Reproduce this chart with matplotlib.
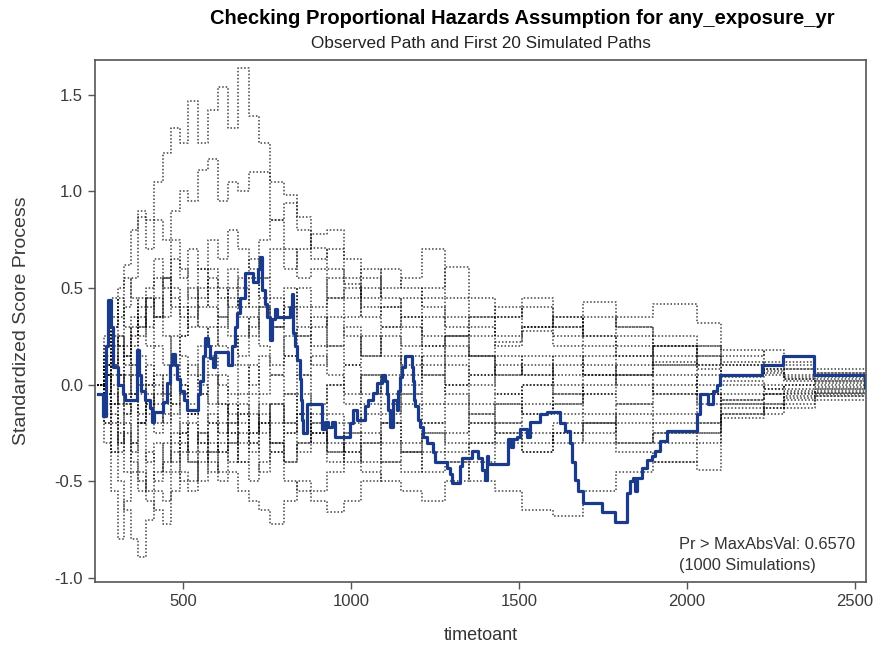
import matplotlib
matplotlib.use("Agg")
import matplotlib.pyplot as plt

plt.rcParams['font.family'] = ['Liberation Sans', 'DejaVu Sans']

# observed path: step times and values
obs_t = [247, 262, 271, 277, 286, 292, 307, 321, 327, 363, 369, 375, 387, 402, 408, 414,
         440, 452, 461, 467, 476, 482, 491, 503, 512, 545, 551, 560, 565, 574, 580, 589,
         595, 634, 646, 655, 661, 670, 685, 708, 723, 729, 735, 744, 750, 759, 765, 774,
         780, 818, 824, 827, 833, 839, 848, 851, 854, 857, 869, 914, 923, 932, 943, 952,
         997, 1006, 1018, 1042, 1051, 1065, 1077, 1092, 1101, 1107, 1110, 1116, 1125, 1137,
         1140, 1146, 1152, 1161, 1182, 1185, 1188, 1190, 1199, 1205, 1214, 1226, 1244, 1250,
         1286, 1295, 1301, 1324, 1330, 1360, 1378, 1390, 1399, 1405, 1408, 1467, 1476, 1482,
         1494, 1503, 1524, 1533, 1562, 1583, 1622, 1637, 1652, 1658, 1667, 1676, 1690, 1747,
         1786, 1821, 1830, 1839, 1845, 1851, 1866, 1881, 1896, 1905, 1920, 1940, 2030, 2039,
         2063, 2077, 2089, 2098, 2223, 2286, 2378, 2530]
obs_v = [-0.05, -0.16, 0.20, 0.44, 0.30, 0.09, 0.00, -0.05, -0.08, 0.18, 0.05, -0.03, -0.08,
         -0.12, -0.19, -0.14, -0.09, 0.01, 0.10, 0.16, 0.10, 0.03, -0.03, -0.08, -0.13, -0.05,
         0.02, 0.15, 0.24, 0.20, 0.14, 0.09, 0.17, 0.10, 0.20, 0.30, 0.37, 0.45, 0.58, 0.53,
         0.60, 0.66, 0.49, 0.42, 0.35, 0.23, 0.34, 0.39, 0.35, 0.40, 0.47, 0.27, 0.20, 0.13,
         0.03, -0.08, -0.18, -0.25, -0.10, -0.23, -0.19, -0.22, -0.19, -0.27, -0.20, -0.13,
         -0.18, -0.11, -0.08, -0.04, 0.01, 0.05, 0.02, -0.05, -0.13, -0.22, -0.08, -0.13,
         -0.03, 0.04, 0.09, 0.15, 0.09, 0.02, -0.08, -0.11, -0.18, -0.22, -0.27, -0.30, -0.35,
         -0.40, -0.43, -0.46, -0.51, -0.42, -0.38, -0.34, -0.38, -0.44, -0.49, -0.37, -0.41,
         -0.28, -0.32, -0.28, -0.27, -0.23, -0.27, -0.19, -0.15, -0.14, -0.20, -0.24, -0.30,
         -0.40, -0.49, -0.55, -0.61, -0.66, -0.71, -0.56, -0.50, -0.48, -0.55, -0.48, -0.43,
         -0.39, -0.37, -0.34, -0.29, -0.24, -0.15, -0.05, -0.10, -0.03, 0.00, 0.05, 0.10,
         0.15, 0.05, -0.01]

# simulated paths share one set of step times
sim_t = [245, 265, 285, 305, 325, 345, 365, 390, 415, 440, 465, 490, 515, 545, 575, 605,
         635, 665, 695, 725, 760, 800, 840, 880, 930, 980, 1030, 1090, 1150, 1210, 1280,
         1350, 1430, 1510, 1600, 1690, 1790, 1900, 2030, 2100, 2230, 2290, 2380, 2530]

sim_1 = [0.00, 0.15, 0.30, 0.50, 0.62, 0.80, 0.90, 0.85, 1.05, 1.20, 1.33, 1.25, 1.47, 1.25,
         1.42, 1.54, 1.33, 1.64, 1.39, 1.25, 1.05, 0.98, 0.87, 0.71, 0.60, 0.52, 0.40, 0.30,
         0.35, 0.25, 0.20, 0.15, 0.22, 0.28, 0.20, 0.10, 0.05, 0.12, 0.08, 0.04, 0.06, 0.03,
         0.03, 0.03]
sim_2 = [0.00, 0.10, 0.25, 0.20, 0.40, 0.55, 0.87, 0.70, 0.85, 0.75, 0.90, 1.00, 0.95, 1.11,
         1.17, 0.95, 1.05, 1.00, 1.10, 1.10, 0.85, 0.70, 0.55, 0.60, 0.45, 0.50, 0.35, 0.40,
         0.30, 0.20, 0.25, 0.15, 0.05, 0.10, 0.00, -0.05, 0.05, 0.10, 0.00, 0.02, -0.02, 0.00,
         0.01, 0.01]
sim_3 = [0.00, -0.05, 0.10, 0.25, 0.15, 0.30, 0.45, 0.40, 0.55, 0.50, 0.65, 0.55, 0.70, 0.60,
         0.75, 0.65, 0.80, 0.70, 0.60, 0.75, 0.85, 0.94, 0.80, 0.65, 0.70, 0.55, 0.45, 0.60,
         0.50, 0.40, 0.30, 0.35, 0.25, 0.30, 0.35, 0.25, 0.15, 0.20, 0.10, 0.05, 0.10, 0.08,
         0.06, 0.06]
sim_4 = [0.00, 0.20, 0.35, 0.20, 0.10, 0.25, 0.40, 0.30, 0.45, 0.35, 0.50, 0.40, 0.30, 0.45,
         0.55, 0.45, 0.60, 0.50, 0.40, 0.55, 0.45, 0.35, 0.50, 0.40, 0.55, 0.45, 0.60, 0.50,
         0.55, 0.70, 0.45, 0.35, 0.40, 0.30, 0.25, 0.35, 0.30, 0.20, 0.15, 0.10, 0.12, 0.08,
         0.05, 0.05]
sim_5 = [0.00, 0.05, -0.10, 0.05, 0.20, 0.10, 0.30, 0.45, 0.35, 0.55, 0.40, 0.25, 0.35, 0.50,
         0.40, 0.30, 0.45, 0.35, 0.25, 0.40, 0.30, 0.50, 0.40, 0.30, 0.45, 0.35, 0.50, 0.40,
         0.45, 0.50, 0.61, 0.45, 0.35, 0.40, 0.30, 0.43, 0.30, 0.25, 0.20, 0.15, 0.18, 0.10,
         0.08, 0.08]
sim_6 = [0.00, 0.10, 0.20, 0.05, -0.10, 0.05, 0.15, 0.00, 0.20, 0.10, 0.25, 0.15, 0.05, 0.20,
         0.30, 0.20, 0.10, 0.25, 0.35, 0.20, 0.10, 0.25, 0.30, 0.20, 0.35, 0.25, 0.15, 0.30,
         0.20, 0.35, 0.25, 0.30, 0.20, 0.30, 0.35, 0.25, 0.35, 0.42, 0.32, 0.18, 0.10, 0.12,
         0.06, 0.06]
sim_7 = [0.00, -0.15, -0.35, -0.50, -0.65, -0.80, -0.89, -0.70, -0.55, -0.60, -0.45, -0.30,
         -0.40, -0.25, -0.35, -0.20, -0.30, -0.15, -0.25, -0.10, -0.20, -0.05, -0.15, -0.25,
         -0.15, -0.20, -0.10, -0.15, -0.05, -0.10, 0.00, -0.10, -0.05, -0.15, -0.10, -0.05,
         -0.10, 0.00, -0.05, -0.08, -0.05, -0.03, -0.04, -0.04]
sim_8 = [0.00, -0.30, -0.55, -0.80, -0.60, -0.45, -0.55, -0.35, -0.50, -0.40, -0.25, -0.35,
         -0.20, -0.30, -0.15, -0.25, -0.10, -0.20, -0.30, -0.20, -0.35, -0.25, -0.15, -0.25,
         -0.35, -0.25, -0.15, -0.20, -0.30, -0.20, -0.25, -0.15, -0.20, -0.10, -0.15, -0.20,
         -0.10, -0.15, -0.05, -0.10, -0.12, -0.06, -0.05, -0.05]
sim_9 = [0.00, -0.10, -0.20, -0.35, -0.25, -0.40, -0.50, -0.60, -0.65, -0.72, -0.55, -0.45,
         -0.50, -0.35, -0.45, -0.30, -0.40, -0.25, -0.35, -0.20, -0.30, -0.40, -0.30, -0.20,
         -0.35, -0.25, -0.30, -0.20, -0.35, -0.25, -0.30, -0.20, -0.25, -0.30, -0.20, -0.25,
         -0.15, -0.20, -0.25, -0.15, -0.10, -0.07, -0.06, -0.06]
sim_10 = [0.00, 0.05, -0.10, 0.00, -0.15, -0.05, -0.20, -0.10, -0.25, -0.15, -0.30, -0.20,
          -0.35, -0.25, -0.40, -0.50, -0.45, -0.55, -0.60, -0.65, -0.72, -0.60, -0.50, -0.55,
          -0.45, -0.35, -0.40, -0.30, -0.35, -0.25, -0.35, -0.30, -0.20, -0.25, -0.30, -0.20,
          -0.30, -0.25, -0.20, -0.12, -0.15, -0.10, -0.08, -0.08]
sim_11 = [0.00, 0.10, 0.00, -0.10, 0.05, -0.05, -0.15, 0.00, -0.10, -0.20, -0.10, -0.25,
          -0.15, -0.30, -0.20, -0.35, -0.25, -0.40, -0.30, -0.45, -0.35, -0.50, -0.55, -0.60,
          -0.66, -0.60, -0.50, -0.40, -0.45, -0.35, -0.40, -0.30, -0.25, -0.35, -0.25, -0.30,
          -0.35, -0.40, -0.44, -0.17, -0.10, -0.12, -0.06, -0.06]
sim_12 = [0.00, -0.05, 0.10, 0.00, 0.15, 0.05, -0.05, 0.10, 0.00, -0.10, 0.05, -0.05, -0.15,
          -0.05, -0.20, -0.10, -0.25, -0.15, -0.05, -0.20, -0.10, -0.25, -0.15, -0.30, -0.20,
          -0.35, -0.25, -0.40, -0.35, -0.45, -0.40, -0.50, -0.55, -0.65, -0.68, -0.55, -0.45,
          -0.40, -0.30, -0.15, -0.12, -0.05, -0.04, -0.04]
sim_13 = [0.00, 0.05, 0.15, 0.05, -0.05, 0.10, 0.00, -0.15, -0.05, 0.05, -0.10, 0.00, -0.15,
          -0.05, 0.05, -0.10, -0.20, -0.10, -0.25, -0.15, -0.30, -0.20, -0.35, -0.25, -0.40,
          -0.30, -0.45, -0.50, -0.55, -0.60, -0.50, -0.40, -0.30, -0.35, -0.25, -0.20, -0.30,
          -0.25, -0.20, -0.10, -0.05, -0.08, -0.03, -0.03]
sim_14 = [0.00, -0.10, -0.05, -0.20, -0.10, -0.30, -0.20, -0.40, -0.30, -0.45, -0.35, -0.50,
          -0.55, -0.40, -0.30, -0.35, -0.20, -0.30, -0.15, -0.25, -0.10, -0.20, -0.05, -0.15,
          0.00, -0.10, 0.05, -0.05, 0.00, 0.10, 0.00, 0.05, -0.05, 0.00, 0.10, 0.05, 0.00,
          -0.05, 0.05, 0.00, -0.02, 0.00, -0.01, -0.01]
sim_15 = [0.00, 0.15, 0.05, 0.25, 0.15, 0.35, 0.25, 0.45, 0.35, 0.55, 0.45, 0.35, 0.50, 0.40,
          0.60, 0.50, 0.40, 0.55, 0.65, 0.55, 0.70, 0.60, 0.70, 0.78, 0.80, 0.65, 0.55, 0.45,
          0.35, 0.45, 0.35, 0.25, 0.35, 0.45, 0.30, 0.20, 0.25, 0.15, 0.20, 0.10, 0.05, 0.04,
          0.02, 0.02]
sim_16 = [0.00, -0.20, -0.10, -0.30, -0.15, -0.05, -0.20, -0.10, 0.05, -0.05, -0.15, -0.05,
          0.10, 0.00, -0.10, 0.05, -0.05, 0.10, 0.00, 0.15, 0.05, -0.05, 0.05, 0.15, 0.05,
          -0.05, 0.05, -0.10, -0.05, 0.05, -0.05, -0.15, -0.10, 0.00, -0.10, 0.00, 0.05,
          -0.05, -0.10, -0.05, 0.00, -0.02, -0.02, -0.02]
sim_17 = [0.00, 0.25, 0.45, 0.35, 0.55, 0.45, 0.30, 0.50, 0.65, 0.55, 0.75, 0.60, 0.45, 0.60,
          0.50, 0.35, 0.50, 0.40, 0.55, 0.45, 0.30, 0.40, 0.25, 0.35, 0.20, 0.30, 0.15, 0.25,
          0.10, 0.20, 0.10, 0.00, 0.10, 0.05, 0.15, 0.05, 0.15, 0.05, -0.05, 0.05, 0.08, 0.02,
          0.00, 0.00]
sim_18 = [0.00, -0.20, -0.35, -0.25, -0.45, -0.30, -0.45, -0.55, -0.45, -0.30, -0.40, -0.25,
          -0.40, -0.50, -0.35, -0.45, -0.30, -0.40, -0.50, -0.40, -0.30, -0.40, -0.30, -0.20,
          -0.30, -0.40, -0.30, -0.20, -0.10, -0.20, -0.10, -0.20, -0.10, -0.15, -0.05, -0.15,
          -0.20, -0.30, -0.25, -0.08, -0.05, -0.04, -0.02, -0.02]
sim_19 = [0.00, 0.10, 0.30, 0.45, 0.30, 0.20, 0.35, 0.20, 0.35, 0.25, 0.10, 0.25, 0.40, 0.30,
          0.20, 0.35, 0.25, 0.15, 0.30, 0.40, 0.30, 0.15, 0.25, 0.10, 0.20, 0.10, 0.25, 0.15,
          0.05, 0.15, 0.25, 0.15, 0.05, 0.15, 0.05, 0.15, 0.20, 0.10, 0.15, 0.12, 0.07, 0.05,
          0.04, 0.04]
sim_20 = [0.00, 0.05, -0.15, -0.30, -0.20, -0.35, -0.20, -0.05, -0.20, -0.05, 0.10, 0.00,
          -0.10, 0.05, 0.15, 0.00, -0.15, -0.05, 0.10, -0.05, 0.05, 0.15, 0.05, -0.10, 0.00,
          0.10, -0.05, 0.05, 0.15, 0.05, 0.15, 0.05, 0.15, 0.05, -0.05, 0.05, 0.10, 0.20,
          0.10, 0.05, 0.08, 0.03, 0.02, 0.02]

sims = [sim_1, sim_2, sim_3, sim_4, sim_5, sim_6, sim_7, sim_8, sim_9, sim_10,
        sim_11, sim_12, sim_13, sim_14, sim_15, sim_16, sim_17, sim_18, sim_19, sim_20]

fig = plt.figure(figsize=(8.78, 6.5), dpi=100)
ax = fig.add_axes([95 / 878, 1 - 582 / 650, 771 / 878, 522 / 650])

for s in sims:
    ax.plot(sim_t, s, drawstyle='steps-post', color='black', lw=1.1,
            ls=(0, (1, 1.3)), alpha=0.75)

ax.plot(obs_t, obs_v, drawstyle='steps-post', color='#1a3a8c', lw=2.3)

ax.set_xlim(238, 2533)
ax.set_ylim(-1.02, 1.68)
ax.set_xticks([500, 1000, 1500, 2000, 2500])
ax.set_yticks([-1.0, -0.5, 0.0, 0.5, 1.0, 1.5])
ax.set_yticklabels(['-1.0', '-0.5', '0.0', '0.5', '1.0', '1.5'])
ax.tick_params(direction='out', length=5, width=1, colors='#555555',
               labelcolor='#3a3a3a', labelsize=12)
for sp in ax.spines.values():
    sp.set_color('#555555')
    sp.set_linewidth(1.2)

ax.set_xlabel('timetoant', fontsize=13, color='#333333', labelpad=13)
ax.set_ylabel('Standardized Score Process', fontsize=14, color='#3a3a3a', labelpad=18)

fig.text(522 / 878, 1 - 19 / 650, 'Checking Proportional Hazards Assumption for any_exposure_yr',
         ha='center', va='center', fontsize=14.5, fontweight='bold', color='black')
fig.text(481 / 878, 1 - 44 / 650, 'Observed Path and First 20 Simulated Paths',
         ha='center', va='center', fontsize=12.3, color='#222222')

ax.text(0.758, 0.052, 'Pr > MaxAbsVal: 0.6570\n(1000 Simulations)', transform=ax.transAxes,
        ha='left', va='center', fontsize=11.8, color='#333333', linespacing=1.5)

fig.savefig('out.png', dpi=100)
